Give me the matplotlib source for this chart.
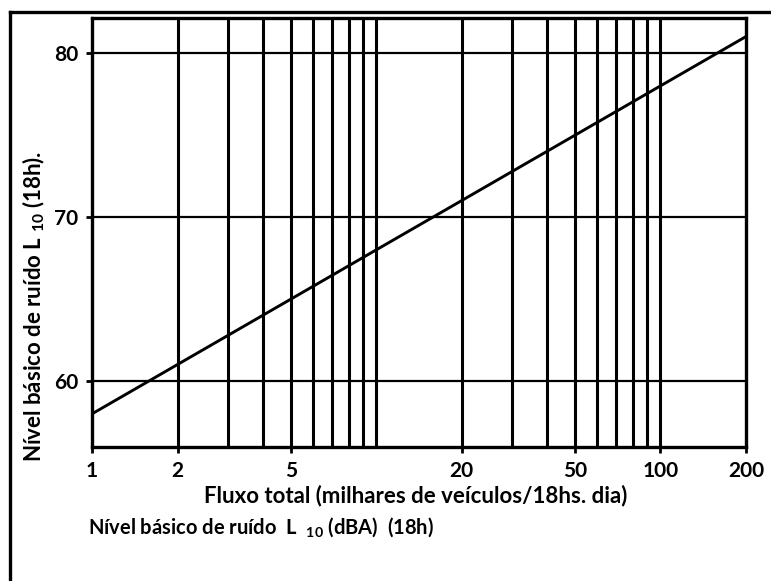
import numpy as np
import matplotlib
matplotlib.use("Agg")
import matplotlib.pyplot as plt
from matplotlib.lines import Line2D

# fluxo total (milhares de veículos / 18h) e nível básico L10 (dBA)
fluxo = [1, 200]
nivel = [58, 81]

x_ticks = [1, 2, 5, 20, 50, 100, 200]
y_ticks = [60, 70, 80]
v_lines = [2, 3, 4, 5, 6, 7, 8, 9, 10, 20, 30, 40, 50, 60, 70, 80, 90, 100]

plt.rcParams["font.family"] = ["Lato", "DejaVu Sans"]
plt.rcParams["font.weight"] = "bold"
plt.rcParams["mathtext.default"] = "regular"

W, H = 771, 581
fig = plt.figure(figsize=(W / 100, H / 100), dpi=100)
ax = fig.add_axes([92 / W, 1 - 447 / H, 654 / W, 429 / H])

ax.set_xscale("log")
ax.set_xlim(1, 200)
ax.set_ylim(55.98, 82.13)

for v in v_lines:
    ax.axvline(v, color="black", lw=2.2, zorder=1)
for y in y_ticks:
    ax.axhline(y, color="black", lw=1.6, zorder=1)

ax.plot(fluxo, nivel, color="black", lw=2.1, zorder=2)

ax.set_xticks(x_ticks)
ax.set_xticklabels([str(t) for t in x_ticks])
ax.xaxis.set_minor_locator(matplotlib.ticker.NullLocator())
ax.set_yticks(y_ticks)
ax.set_yticklabels([str(t) for t in y_ticks])
ax.tick_params(axis="both", length=4, width=2, labelsize=15, pad=6)
for lab in ax.get_xticklabels() + ax.get_yticklabels():
    lab.set_fontweight("bold")

for s in ax.spines.values():
    s.set_linewidth(2.4)

# rótulos dos eixos (posição)
fig.text(416 / W, 1 - 496 / H, "Fluxo total (milhares de veículos/18hs. dia)",
         fontsize=16, fontweight="bold", ha="center", va="center")
fig.text(34 / W, 1 - 306 / H, "Nível básico de ruído L $_{10}$ (18h).",
         fontsize=16, fontweight="bold", ha="center", va="center", rotation=90)
fig.text(88 / W, 1 - 527 / H, "Nível básico de ruído  L  $_{10}$ (dBA)  (18h)",
         fontsize=14.5, fontweight="bold", ha="left", va="center")

# moldura externa (só topo e esquerda visíveis)
fig.add_artist(Line2D([10 / W, 10 / W], [0, 1 - 12 / H], color="black",
                      lw=2.4, transform=fig.transFigure))
fig.add_artist(Line2D([10 / W, 1], [1 - 12 / H, 1 - 12 / H], color="black",
                      lw=2.4, transform=fig.transFigure))

fig.savefig("out.png", dpi=100)
